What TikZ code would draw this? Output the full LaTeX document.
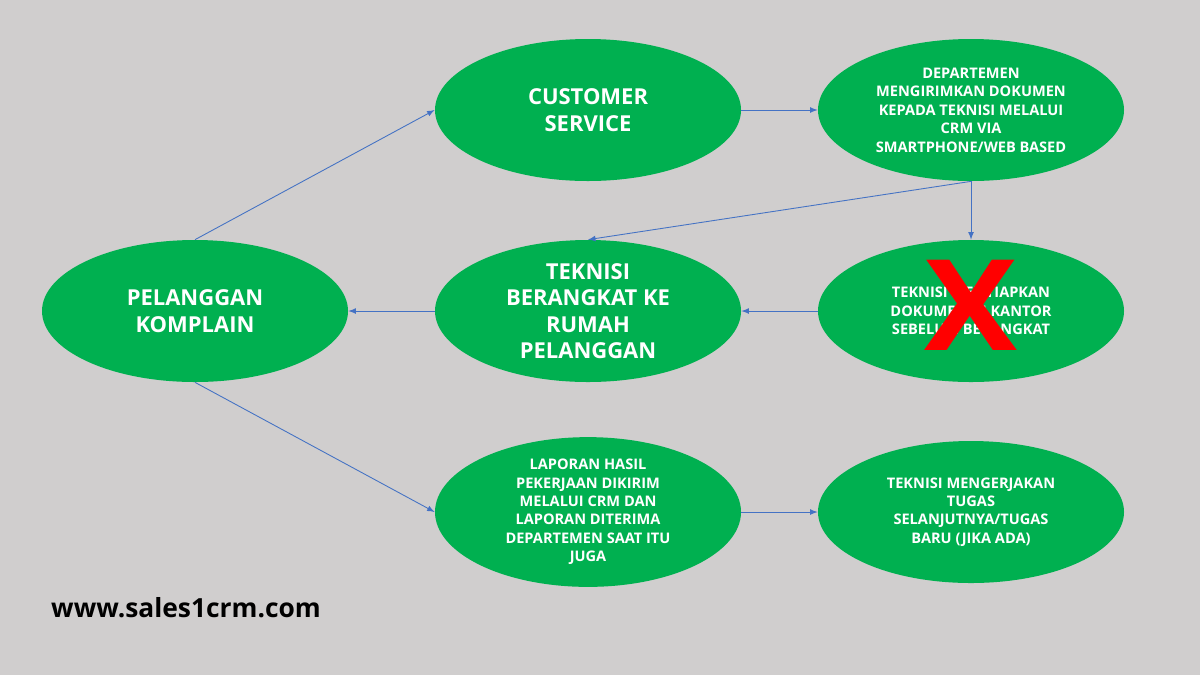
\documentclass[tikz,border=0pt]{standalone}
\usepackage{fontspec}
\setmainfont{Open Sans}
\usetikzlibrary{shapes.geometric}
\definecolor{bggray}{HTML}{D0CECE}
\definecolor{stepgreen}{HTML}{00B050}
\definecolor{linkblue}{HTML}{4472C4}
\tikzset{
  bubble/.style={ellipse, fill=stepgreen, minimum width=6.12cm, minimum height=2.84cm,
    inner sep=0pt, align=center, text=white, font=\bfseries},
  bigtext/.style={font=\fontsize{12.5}{15}\selectfont\bfseries},
  smalltext/.style={font=\fontsize{8.3}{10.5}\selectfont\bfseries},
  link/.style={linkblue, line width=0.5pt, -latex}
}
\begin{document}
\begin{tikzpicture}

\fill[bggray] (0,0) rectangle (24,-13.5);
\useasboundingbox (0,0) rectangle (24,-13.5);

% left column
\node[bubble, bigtext] (pelanggan) at (3.9,-6.22) {PELANGGAN\\KOMPLAIN};

% middle column
\node[bubble, bigtext] (cs) at (11.76,-2.2) {CUSTOMER\\SERVICE};
\node[bubble, bigtext] (berangkat) at (11.76,-6.22) {TEKNISI\\BERANGKAT KE\\RUMAH\\PELANGGAN};
\node[bubble, smalltext] (laporan) at (11.76,-10.24) {LAPORAN HASIL\\PEKERJAAN DIKIRIM\\MELALUI CRM DAN\\LAPORAN DITERIMA\\DEPARTEMEN SAAT ITU\\JUGA};

% right column
\node[bubble, smalltext] (dept) at (19.42,-2.2) {DEPARTEMEN\\MENGIRIMKAN DOKUMEN\\KEPADA TEKNISI MELALUI\\CRM VIA\\SMARTPHONE/WEB BASED};
\node[bubble, smalltext] (kantor) at (19.42,-6.22) {TEKNISI MENYIAPKAN\\DOKUMEN DI KANTOR\\SEBELUM BERANGKAT};
\node[bubble, smalltext] (tugas) at (19.42,-10.24) {TEKNISI MENGERJAKAN\\TUGAS\\SELANJUTNYA/TUGAS\\BARU (JIKA ADA)};

\node[text=red, font=\fontsize{72}{72}\selectfont\bfseries, xscale=1.1] (cross) at (19.42,-6.1) {X};

\node[anchor=west, font=\fontsize{15}{18}\selectfont\bfseries] (web) at (0.9,-12.16) {www.sales1crm.com};

\draw[link] (pelanggan.north) -- (cs.west);
\draw[link] (pelanggan.south) -- (laporan.west);
\draw[link] (cs.east) -- (dept.west);
\draw[link] (dept.south) -- (kantor.north);
\draw[link] (dept.south) -- (berangkat.north);
\draw[link] (kantor.west) -- (berangkat.east);
\draw[link] (berangkat.west) -- (pelanggan.east);
\draw[link] (laporan.east) -- (tugas.west);

\end{tikzpicture}
\end{document}
